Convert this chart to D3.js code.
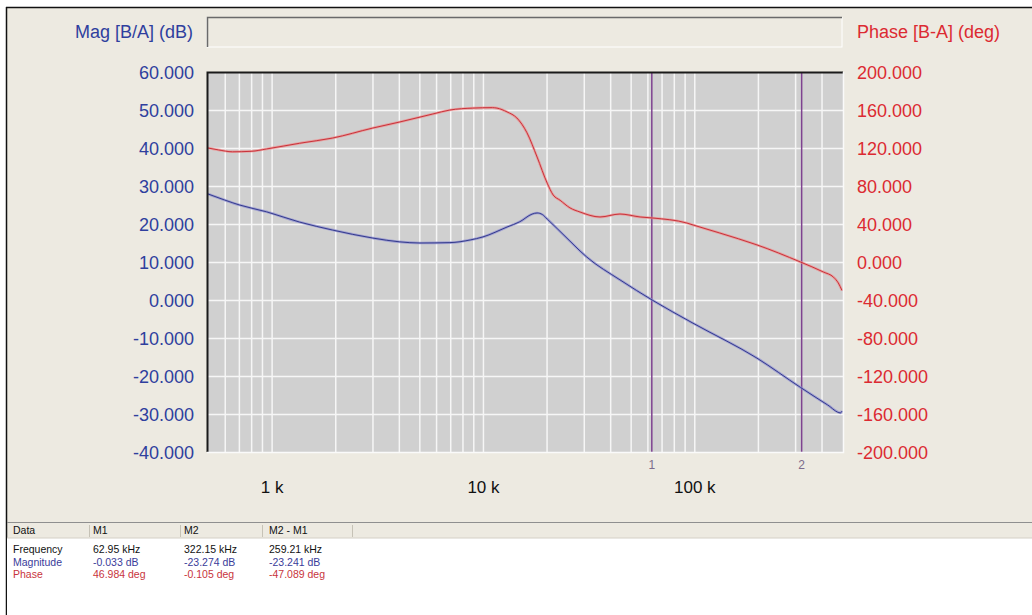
<!DOCTYPE html>
<html>
<head>
<meta charset="utf-8">
<script src="https://cdn.jsdelivr.net/npm/d3@7"></script>
<style>
  body { margin: 0; background: #fff; }
  #chart { width: 1032px; height: 615px; }
  text { font-family: "Liberation Sans", Arial, sans-serif; }
</style>
</head>
<body>
<div id="chart"></div>
<script>

// magnitude trace (Hz, dB)
const magFreq = [500, 600, 705, 947, 1357, 1946, 3010, 4040, 5030, 6980, 8700, 10000, 13000, 14950,
  17070, 18040, 19100, 20140, 22440, 25800, 28800, 31000, 44500, 63600, 98600, 198000, 318000, 427000, 492000, 500000];
const magDb = [27.9, 26.3, 25.0, 23.2, 20.5, 18.4, 16.3, 15.3, 15.0, 15.1, 15.8, 16.6, 19.2, 20.6,
  22.6, 22.9, 22.5, 21.3, 18.8, 15.5, 12.9, 11.3, 5.3, -0.1, -6.1, -15.3, -23.0, -27.6, -29.7, -29.2];

// phase trace (Hz, deg)
const phaseFreq = [500, 560, 653, 800, 947, 1357, 1946, 3010, 4040, 5790, 6980, 8950, 11100, 11650,
  13000, 14470, 16160, 18040, 20140, 21500, 23170, 25800, 28800, 35800, 44500, 55400, 63600, 92300,
  98600, 132000, 198000, 318000, 408000, 456000, 480000, 500000];
const phaseDeg = [120, 118, 116, 116.5, 119, 125, 130.5, 141, 147.4, 155.8, 160, 162, 162.5, 162,
  158, 151.6, 136, 110.5, 83, 70.5, 65, 57, 52.6, 47.4, 50.5, 47.4, 46.3, 41,
  39, 30.5, 18, 0, -10.5, -16, -22, -30];

// axis ticks
const magTicks = [60, 50, 40, 30, 20, 10, 0, -10, -20, -30, -40];
const phaseTicks = [200, 160, 120, 80, 40, 0, -40, -80, -120, -160, -200];
const decadeTicks = [1000, 10000, 100000];
const decadeLabels = ["1 k", "10 k", "100 k"];

// markers
const markerNames = ["1", "2"];
const markerFreq = [62950, 322150];

// readout table
const tableHeader = ["Data", "M1", "M2", "M2 - M1"];
const tableRows = [
  ["Frequency", "62.95 kHz", "322.15 kHz", "259.21 kHz"],
  ["Magnitude", "-0.033 dB", "-23.274 dB", "-23.241 dB"],
  ["Phase", "46.984 deg", "-0.105 deg", "-47.089 deg"]
];

const width = 1032, height = 615;
const plot = {left: 207, right: 843, top: 72, bottom: 452};
const blue = "#2f3f9e", red = "#dc2a32", beige = "#edeae1";

// plain hyphen for negatives, like the instrument software
const fmt = d3.formatLocale({decimal: ".", thousands: ",", grouping: [3], currency: ["", ""], minus: "-"}).format(".3f");

const svg = d3.select("#chart").append("svg")
  .attr("width", width)
  .attr("height", height);

// panel background + outer border
svg.append("rect").attr("x", 6).attr("y", 7).attr("width", width - 6).attr("height", height - 7).attr("fill", beige);
svg.append("line").attr("x1", 6).attr("x2", width).attr("y1", 7.5).attr("y2", 7.5).attr("stroke", "#111").attr("stroke-width", 1.5);
svg.append("line").attr("x1", 6.5).attr("x2", 6.5).attr("y1", 7).attr("y2", height).attr("stroke", "#111").attr("stroke-width", 1.5);

// title box
svg.append("rect").attr("x", 207).attr("y", 17.5).attr("width", 635).attr("height", 29.5)
  .attr("fill", beige).attr("stroke", "#fff").attr("stroke-width", 1);
svg.append("path").attr("d", "M207.5,47 V17.5 H842").attr("fill", "none").attr("stroke", "#6a6a6a").attr("stroke-width", 1.5);

// scales
const x = d3.scaleLog().domain([500, 500000]).range([plot.left + 1, plot.right - 1]);
const yMag = d3.scaleLinear().domain([-40, 60]).range([plot.bottom, plot.top]);
const yPhase = d3.scaleLinear().domain([-200, 200]).range([plot.bottom, plot.top]);

// plot area
svg.append("rect").attr("x", plot.left).attr("y", plot.top)
  .attr("width", plot.right - plot.left).attr("height", plot.bottom - plot.top).attr("fill", "#d0d0d0");

// vertical grid (log minors)
const gridFreq = x.ticks().filter(function(f) { return f > 500 && f < 500000; });
svg.append("g")
  .attr("transform", `translate(0,${plot.bottom})`)
  .call(d3.axisBottom(x).tickValues(gridFreq).tickSize(-(plot.bottom - plot.top)).tickFormat(""))
  .call(g => g.select(".domain").remove())
  .call(g => g.selectAll("line").attr("stroke", "#f6f6f6").attr("stroke-width", 1.5));

// horizontal grid
svg.append("g")
  .attr("transform", `translate(${plot.left},0)`)
  .call(d3.axisLeft(yMag).tickValues(magTicks.slice(1, -1)).tickSize(-(plot.right - plot.left)).tickFormat(""))
  .call(g => g.select(".domain").remove())
  .call(g => g.selectAll("line").attr("stroke", "#f6f6f6").attr("stroke-width", 1.5));

// markers
svg.selectAll(".marker")
  .data(markerFreq)
  .enter().append("line")
  .attr("class", "marker")
  .attr("x1", d => x(d)).attr("x2", d => x(d))
  .attr("y1", plot.top).attr("y2", plot.bottom)
  .attr("stroke", "#7e4290").attr("stroke-width", 1.5);

svg.selectAll(".markerLabel")
  .data(markerFreq)
  .enter().append("text")
  .attr("class", "markerLabel")
  .attr("x", d => x(d)).attr("y", plot.bottom + 17)
  .attr("text-anchor", "middle")
  .attr("font-size", 12)
  .attr("fill", "#7c6c8c")
  .text((d, i) => markerNames[i]);

// traces
const magData = magFreq.map((f, i) => [f, magDb[i]]);
const phaseData = phaseFreq.map((f, i) => [f, phaseDeg[i]]);

const magLine = d3.line().x(d => x(d[0])).y(d => yMag(d[1])).curve(d3.curveMonotoneX);
const phaseLine = d3.line().x(d => x(d[0])).y(d => yPhase(d[1])).curve(d3.curveMonotoneX);

svg.append("path").datum(phaseData).attr("d", phaseLine)
  .attr("fill", "none").attr("stroke", "#f08a8a").attr("stroke-width", 2.6).attr("opacity", 0.7);
svg.append("path").datum(phaseData).attr("d", phaseLine)
  .attr("fill", "none").attr("stroke", "#c8323a").attr("stroke-width", 1);

svg.append("path").datum(magData).attr("d", magLine)
  .attr("fill", "none").attr("stroke", "#8c8cd2").attr("stroke-width", 2.6).attr("opacity", 0.7);
svg.append("path").datum(magData).attr("d", magLine)
  .attr("fill", "none").attr("stroke", "#333a8c").attr("stroke-width", 1);

// sunken frame around plot
svg.append("path").attr("d", `M${plot.left + 0.5},${plot.bottom} V${plot.top + 0.5} H${plot.right}`)
  .attr("fill", "none").attr("stroke", "#1a1a1a").attr("stroke-width", 2);
svg.append("path").attr("d", `M${plot.left},${plot.bottom + 0.5} H${plot.right + 0.5} V${plot.top}`)
  .attr("fill", "none").attr("stroke", "#fafafa").attr("stroke-width", 1.5);

// left axis (magnitude)
svg.append("g")
  .attr("transform", `translate(${plot.left - 13},1)`)
  .call(d3.axisLeft(yMag).tickValues(magTicks).tickSize(0).tickPadding(0).tickFormat(fmt))
  .call(g => g.select(".domain").remove())
  .call(g => g.selectAll("text").attr("font-size", 18).attr("fill", blue)
    .attr("font-family", "'Liberation Sans', Arial, sans-serif"));

// right axis (phase)
svg.append("g")
  .attr("transform", `translate(${plot.right + 14},1)`)
  .call(d3.axisRight(yPhase).tickValues(phaseTicks).tickSize(0).tickPadding(0).tickFormat(fmt))
  .call(g => g.select(".domain").remove())
  .call(g => g.selectAll("text").attr("font-size", 18).attr("fill", red)
    .attr("font-family", "'Liberation Sans', Arial, sans-serif"));

// frequency decade labels
svg.append("g")
  .attr("transform", `translate(0,${plot.bottom})`)
  .call(d3.axisBottom(x).tickValues(decadeTicks).tickSize(0).tickPadding(29)
    .tickFormat((d, i) => decadeLabels[i]))
  .call(g => g.select(".domain").remove())
  .call(g => g.selectAll("text").attr("font-size", 17).attr("fill", "#111")
    .attr("font-family", "'Liberation Sans', Arial, sans-serif"));

// axis titles
svg.append("text").attr("x", 193).attr("y", 38).attr("text-anchor", "end")
  .attr("font-size", 18).attr("fill", blue).text("Mag [B/A] (dB)");
svg.append("text").attr("x", 857).attr("y", 38)
  .attr("font-size", 18).attr("fill", red).text("Phase [B-A] (deg)");

// readout table
const tableTop = 523;
const colX = [13, 93, 184, 269];
const colSep = [89, 180, 262, 352];
const rowColors = ["#111", "#3a3c9a", "#c8343c"];

svg.append("rect").attr("x", 7).attr("y", tableTop + 15).attr("width", width - 7).attr("height", height - tableTop - 15).attr("fill", "#fff");
svg.append("line").attr("x1", 7).attr("x2", width).attr("y1", tableTop - 0.5).attr("y2", tableTop - 0.5).attr("stroke", "#8f8f8f");
svg.append("line").attr("x1", 7).attr("x2", width).attr("y1", tableTop + 15).attr("y2", tableTop + 15).attr("stroke", "#d4d0c6");

svg.selectAll(".colSep")
  .data(colSep)
  .enter().append("line")
  .attr("class", "colSep")
  .attr("x1", d => d + 0.5).attr("x2", d => d + 0.5)
  .attr("y1", tableTop + 2).attr("y2", tableTop + 14)
  .attr("stroke", "#c6c2b6");

svg.selectAll(".th")
  .data(tableHeader)
  .enter().append("text")
  .attr("class", "th")
  .attr("x", (d, i) => colX[i]).attr("y", tableTop + 11)
  .attr("font-size", 10.5).attr("fill", "#111")
  .text(d => d);

tableRows.forEach(function(row, r) {
  svg.selectAll(".row" + r)
    .data(row)
    .enter().append("text")
    .attr("class", "row" + r)
    .attr("x", (d, i) => colX[i]).attr("y", tableTop + 30 + r * 12.5)
    .attr("font-size", 10.5).attr("fill", rowColors[r])
    .text(d => d);
});

</script>
</body>
</html>
